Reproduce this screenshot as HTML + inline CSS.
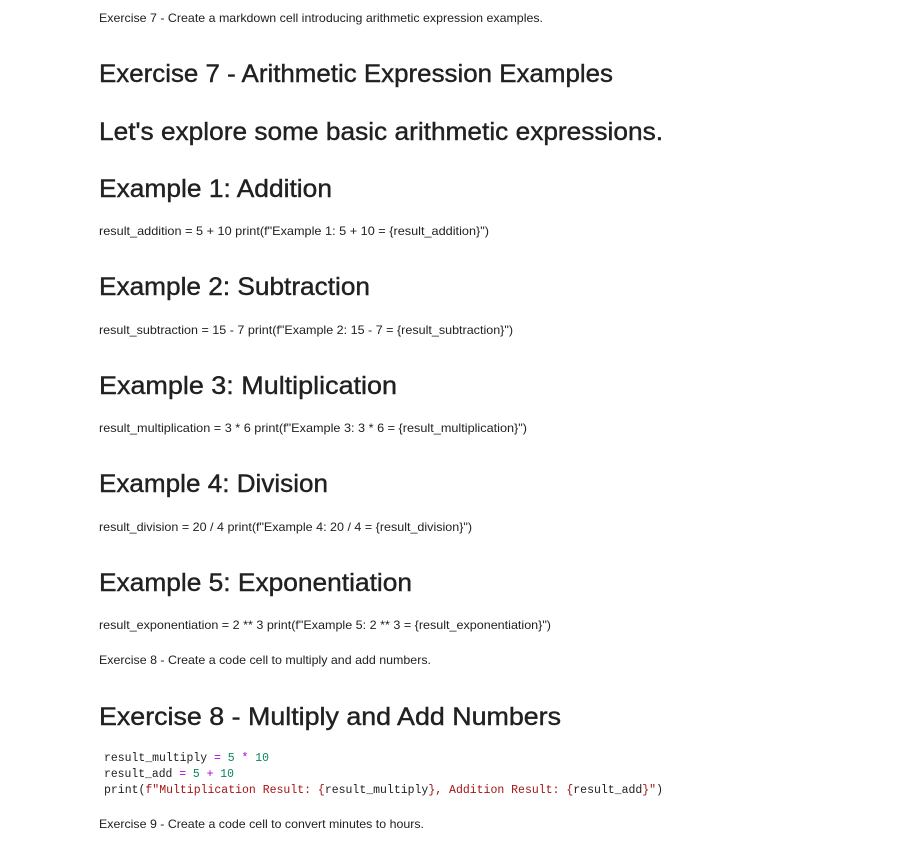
<!DOCTYPE html>
<html><head><meta charset="utf-8"><style>html,body{margin:0;padding:0;background:#fff}svg{display:block}</style></head>
<body>
<svg width="912" height="863" xmlns="http://www.w3.org/2000/svg">
<g font-family="Liberation Sans, sans-serif" fill="#212121">
<g font-size="12">
<text x="99" y="22" textLength="444" lengthAdjust="spacingAndGlyphs">Exercise 7 - Create a markdown cell introducing arithmetic expression examples.</text>
<text x="99" y="235" textLength="390" lengthAdjust="spacingAndGlyphs">result_addition = 5 + 10 print(f"Example 1: 5 + 10 = {result_addition}")</text>
<text x="99" y="334" textLength="414" lengthAdjust="spacingAndGlyphs">result_subtraction = 15 - 7 print(f"Example 2: 15 - 7 = {result_subtraction}")</text>
<text x="99" y="432" textLength="428" lengthAdjust="spacingAndGlyphs">result_multiplication = 3 * 6 print(f"Example 3: 3 * 6 = {result_multiplication}")</text>
<text x="99" y="531" textLength="373" lengthAdjust="spacingAndGlyphs">result_division = 20 / 4 print(f"Example 4: 20 / 4 = {result_division}")</text>
<text x="99" y="629" textLength="452" lengthAdjust="spacingAndGlyphs">result_exponentiation = 2 ** 3 print(f"Example 5: 2 ** 3 = {result_exponentiation}")</text>
<text x="99" y="664" textLength="332" lengthAdjust="spacingAndGlyphs">Exercise 8 - Create a code cell to multiply and add numbers.</text>
<text x="99" y="828" textLength="325" lengthAdjust="spacingAndGlyphs">Exercise 9 - Create a code cell to convert minutes to hours.</text>
</g>
<g font-size="25" stroke="#212121" stroke-width="0.4">
<text x="99" y="82" textLength="514" lengthAdjust="spacingAndGlyphs">Exercise 7 - Arithmetic Expression Examples</text>
<text x="99" y="140" textLength="564" lengthAdjust="spacingAndGlyphs">Let's explore some basic arithmetic expressions.</text>
<text x="99" y="197" textLength="233" lengthAdjust="spacingAndGlyphs">Example 1: Addition</text>
<text x="99" y="295" textLength="271" lengthAdjust="spacingAndGlyphs">Example 2: Subtraction</text>
<text x="99" y="394" textLength="298" lengthAdjust="spacingAndGlyphs">Example 3: Multiplication</text>
<text x="99" y="492" textLength="229" lengthAdjust="spacingAndGlyphs">Example 4: Division</text>
<text x="99" y="591" textLength="313" lengthAdjust="spacingAndGlyphs">Example 5: Exponentiation</text>
<text x="99" y="725" textLength="462" lengthAdjust="spacingAndGlyphs">Exercise 8 - Multiply and Add Numbers</text>
</g>
</g>
<g font-family="Liberation Mono, monospace" font-size="11.5" fill="#212121">
<text x="104" y="761" textLength="165" lengthAdjust="spacingAndGlyphs">result_multiply <tspan fill="#af00db">=</tspan> <tspan fill="#098658">5</tspan> <tspan fill="#af00db">*</tspan> <tspan fill="#098658">10</tspan></text>
<text x="104" y="777" textLength="130" lengthAdjust="spacingAndGlyphs">result_add <tspan fill="#af00db">=</tspan> <tspan fill="#098658">5</tspan> <tspan fill="#af00db">+</tspan> <tspan fill="#098658">10</tspan></text>
<text x="104" y="793" textLength="559" lengthAdjust="spacingAndGlyphs">print(<tspan fill="#a31515">f"Multiplication Result: {</tspan>result_multiply<tspan fill="#a31515">}, Addition Result: {</tspan>result_add<tspan fill="#a31515">}"</tspan>)</text>
</g>
</svg>
</body></html>
